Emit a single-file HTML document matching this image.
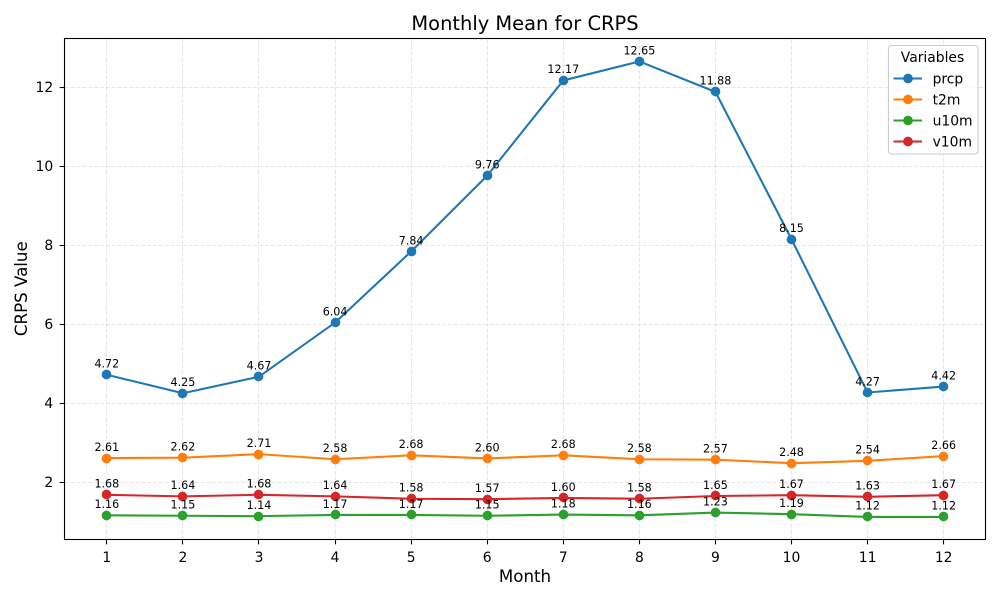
<!DOCTYPE html>
<html>
<head>
<meta charset="utf-8">
<title>Monthly Mean for CRPS</title>
<style>
html,body{margin:0;padding:0;background:#fff;}
svg{display:block;font-family:"DejaVu Sans","Liberation Sans",sans-serif;}
</style>
</head>
<body>
<svg id="chart" width="1000" height="600" viewBox="0 0 1000 600" xmlns="http://www.w3.org/2000/svg">
  <rect x="0" y="0" width="1000" height="600" fill="#fff"/>
  <text x="525" y="30" font-size="19.44" text-anchor="middle" fill="#000">Monthly Mean for CRPS</text>
  <text x="525" y="582" font-size="16.67" text-anchor="middle" fill="#000">Month</text>
  <text x="27" y="288.7" font-size="16.67" text-anchor="middle" fill="#000" transform="rotate(-90 27 288.7)">CRPS Value</text>
  <g id="grid"></g>
  <g id="series"></g>
  <g id="labels"></g>
  <rect x="64.5" y="38.5" width="921" height="501" fill="none" stroke="#000" stroke-width="1.1"/>
  <g id="ticks"></g>
  <g id="legend"></g>
</svg>
<script>
const months = [1, 2, 3, 4, 5, 6, 7, 8, 9, 10, 11, 12];
const yTicks = [2, 4, 6, 8, 10, 12];
const seriesNames = ["prcp", "t2m", "u10m", "v10m"];
const seriesColors = ["#1f77b4", "#ff7f0e", "#2ca02c", "#d62728"];
const prcp = [4.72, 4.25, 4.67, 6.04, 7.84, 9.76, 12.17, 12.65, 11.88, 8.15, 4.27, 4.42];
const t2m = [2.61, 2.62, 2.71, 2.58, 2.68, 2.60, 2.68, 2.58, 2.57, 2.48, 2.54, 2.66];
const u10m = [1.16, 1.15, 1.14, 1.17, 1.17, 1.15, 1.18, 1.16, 1.23, 1.19, 1.12, 1.12];
const v10m = [1.68, 1.64, 1.68, 1.64, 1.58, 1.57, 1.60, 1.58, 1.65, 1.67, 1.63, 1.67];
const seriesValues = [prcp, t2m, u10m, v10m];

const NS = "http://www.w3.org/2000/svg";
const plot = { left: 65, right: 985.5, top: 38.7, bottom: 539.7 };
const frame = { left: 64.5, right: 985.5, top: 38.5, bottom: 539.5 };
const xMin = 0.45, xMax = 12.55;
const yMin = 0.5435, yMax = 13.2265;
function xScale(v) { return plot.left + (v - xMin) / (xMax - xMin) * (plot.right - plot.left); }
function yScale(v) { return plot.bottom - (v - yMin) / (yMax - yMin) * (plot.bottom - plot.top); }
function snap(p) { return Math.floor(p) + 0.5; }
function mk(tag, attrs, parent) {
  const el = document.createElementNS(NS, tag);
  for (const k in attrs) el.setAttribute(k, attrs[k]);
  parent.appendChild(el);
  return el;
}
const grid = document.getElementById("grid");
const ticks = document.getElementById("ticks");
const seriesG = document.getElementById("series");
const labelsG = document.getElementById("labels");
const legendG = document.getElementById("legend");
const gridAttrs = { stroke: "#b0b0b0", "stroke-opacity": "0.3", "stroke-width": "1.1", "stroke-dasharray": "4.1 1.8", fill: "none" };

months.forEach(function (m) {
  const x = snap(xScale(m));
  const g = mk("line", Object.assign({ x1: x, x2: x, y1: frame.bottom, y2: frame.top }, gridAttrs), grid);
  
  
  const t = mk("line", { x1: x, x2: x, y1: frame.bottom, y2: frame.bottom + 4.86, stroke: "#000", "stroke-width": "1.1" }, ticks);
  
  
  const l = mk("text", { x: xScale(m), y: frame.bottom + 22.5, "font-size": "13.89", "text-anchor": "middle", fill: "#000" }, ticks);
  l.textContent = String(m);
  
  
});
yTicks.forEach(function (v) {
  const y = snap(yScale(v));
  const g = mk("line", Object.assign({ x1: frame.left, x2: frame.right, y1: y, y2: y }, gridAttrs), grid);
  
  
  const t = mk("line", { x1: frame.left - 4.86, x2: frame.left, y1: y, y2: y, stroke: "#000", "stroke-width": "1.1" }, ticks);
  
  
  const l = mk("text", { x: frame.left - 11.3, y: yScale(v) + 5, "font-size": "13.89", "text-anchor": "end", fill: "#000" }, ticks);
  l.textContent = String(v);
  
  
});
seriesValues.forEach(function (vals, s) {
  const color = seriesColors[s];
  const pts = vals.map(function (v, i) { return xScale(months[i]).toFixed(2) + "," + yScale(v).toFixed(2); }).join(" ");
  const line = mk("polyline", { points: pts, fill: "none", stroke: color, "stroke-width": "2.08", "stroke-linejoin": "round" }, seriesG);
  
  
  vals.forEach(function (v, i) {
    const c = mk("circle", { cx: snap(xScale(months[i])), cy: snap(yScale(v)), r: 4.86, fill: color }, seriesG);
    
    
    const lab = mk("text", { x: xScale(months[i]), y: yScale(v) - 7.2, "font-size": "11.11", "text-anchor": "middle", fill: "#000" }, labelsG);
    lab.textContent = v.toFixed(2);
    
    
  });
});
const box = mk("rect", { x: 888.5, y: 45.5, width: 89.5, height: 108.5, rx: 3, ry: 3, fill: "#fff", "fill-opacity": "0.8", stroke: "#cccccc", "stroke-width": "1.1" }, legendG);


const legendTitle = mk("text", { x: 932.5, y: 62, "font-size": "13.89", "text-anchor": "middle", fill: "#000" }, legendG);
legendTitle.textContent = "Variables";


seriesNames.forEach(function (name, s) {
  const y = 78.5 + s * 21;
  const color = seriesColors[s];
  const ln = mk("line", { x1: 893.5, x2: 922, y1: y, y2: y, stroke: color, "stroke-width": "2.08" }, legendG);
  
  
  const dot = mk("circle", { cx: 908, cy: y, r: 4.86, fill: color }, legendG);
  
  
  const txt = mk("text", { x: 932.6, y: y + 5, "font-size": "13.89", fill: "#000" }, legendG);
  txt.textContent = name;
  
  
});
</script>
</body>
</html>
